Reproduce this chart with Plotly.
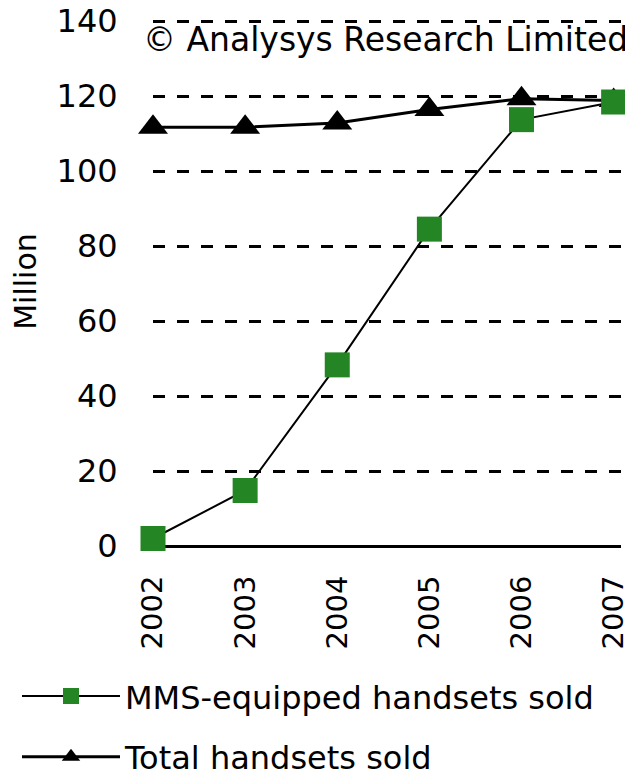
import plotly.graph_objects as go

years = [2002, 2003, 2004, 2005, 2006, 2007]
mms_sold = [2.0, 14.8, 48.3, 84.5, 113.7, 118.4]
total_sold = [111.7, 111.7, 112.8, 116.4, 119.3, 118.8]
y_ticks = [0, 20, 40, 60, 80, 100, 120, 140]

FONT = "DejaVu Sans"

fig = go.Figure()
fig.add_trace(go.Scatter(
    x=years, y=total_sold, name="Total handsets sold", mode="lines+markers",
    line=dict(color="black", width=3),
    marker=dict(symbol="triangle-up", size=26, color="black"),
    cliponaxis=False, legendrank=2, legendgroup="b"))
fig.add_trace(go.Scatter(
    x=years, y=mms_sold, name="MMS-equipped handsets sold", mode="lines+markers",
    line=dict(color="black", width=2),
    marker=dict(symbol="square", size=25, color="#238523"),
    cliponaxis=False, legendrank=1, legendgroup="a"))

fig.update_layout(
    width=625, height=768,
    margin=dict(l=145, r=12, t=9, b=230, autoexpand=False),
    paper_bgcolor="white", plot_bgcolor="white",
    font=dict(family=FONT, size=32, color="black"),
    showlegend=True,
    legend=dict(x=-0.2906, y=-0.232, xanchor="left", yanchor="top",
                font=dict(size=32), tracegroupgap=16, itemwidth=98,
                bgcolor="rgba(0,0,0,0)"),
    annotations=[dict(text="© Analysys Research Limited", xref="paper", yref="paper",
                      x=1.02, y=0.958, xanchor="right", yanchor="middle",
                      showarrow=False, font=dict(size=33, family=FONT))],
)
fig.update_xaxes(
    range=[2002, 2007.08], tickvals=years, ticktext=[str(y) for y in years],
    tickangle=-90, showgrid=False, zeroline=False, showline=False,
    ticks="outside", ticklen=0, ticklabelstandoff=17, automargin=False,
    ticklabeloverflow="allow", tickfont=dict(size=29))
fig.update_yaxes(
    range=[0, 141.07], tickvals=y_ticks, showgrid=True, gridcolor="black",
    gridwidth=3, griddash="12px,12px", zeroline=True, zerolinecolor="black",
    zerolinewidth=3, showline=False, ticks="outside", ticklen=0,
    ticklabelstandoff=28, tickfont=dict(size=32), automargin=False,
    ticklabeloverflow="allow",
    title=dict(text="Million", font=dict(size=30), standoff=30))

fig.write_html("out.html")
